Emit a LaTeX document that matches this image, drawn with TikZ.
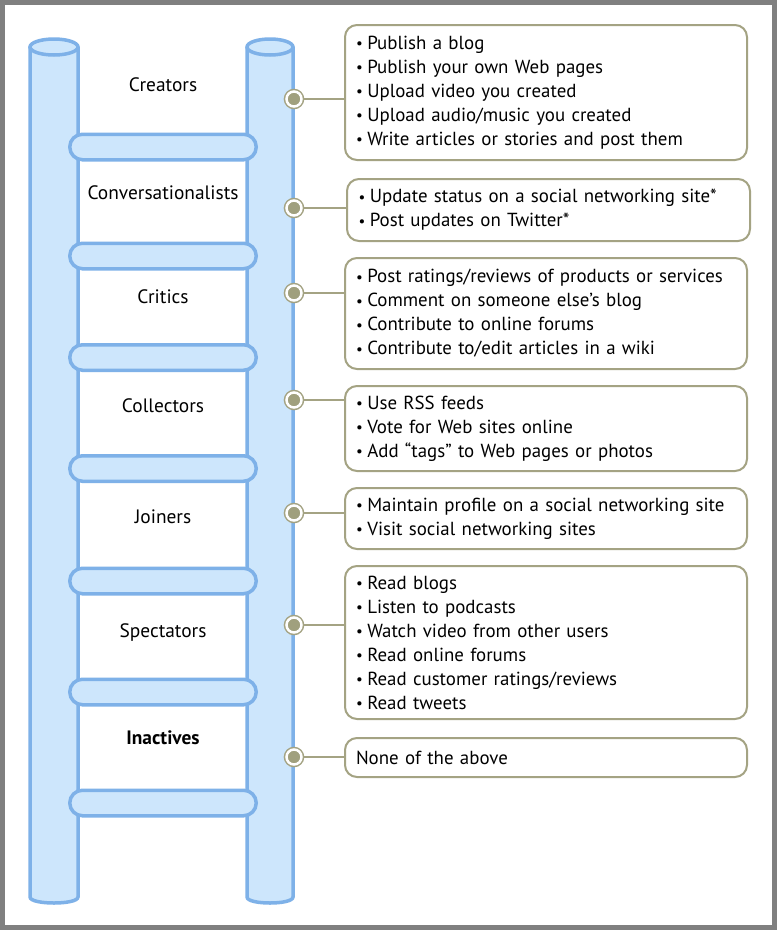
\documentclass[tikz,border=0pt]{standalone}
\usepackage{fontspec}
\setmainfont{PT Sans}
\definecolor{poleblue}{HTML}{7EB1E8}
\definecolor{polefill}{HTML}{CDE6FC}
\definecolor{olive}{HTML}{A4A383}
\definecolor{dotfill}{HTML}{A0A07E}
\definecolor{framegray}{HTML}{808080}
\newcommand{\bul}{\raisebox{0.8pt}{\fontsize{15}{15}\selectfont\textbullet}\hspace{4.5pt}}
\begin{document}
\begin{tikzpicture}[x=1pt,y=-1pt,
  pole/.style={fill=polefill, draw=poleblue, line width=3.5pt},
  rung/.style={rectangle, fill=polefill, draw=poleblue, line width=3.5pt, rounded corners=12.7pt, minimum width=186.5pt, minimum height=25.5pt, inner sep=0pt},
  lbl/.style={anchor=base, font=\fontsize{19.4}{22}\selectfont, inner sep=0pt},
  dotnode/.style={circle, inner sep=0pt, minimum size=15pt, fill=dotfill, draw=white, line width=2.5pt, preaction={draw=olive, line width=5.5pt}},
  infobox/.style={rectangle, draw=olive, line width=2pt, fill=white, rounded corners=12pt, outer sep=0pt, anchor=north west, minimum width=402pt, text width=380pt, inner xsep=11pt, inner ysep=0pt, align=left, font=\fontsize{18.9}{24}\selectfont},
  conn/.style={draw=olive, line width=1.8pt}
]
\useasboundingbox (0,0) rectangle (777,930);
\fill[framegray] (0,0) rectangle (777,930);
\fill[white] (5,5) rectangle (772,925);

% poles
\path[pole] (30,47) -- (30,897) .. controls (30,905) and (78,905) .. (78,897) -- (78,47);
\path[pole] (54,47) ellipse [x radius=24, y radius=8];
\path[pole] (247,47) -- (247,897) .. controls (247,905) and (293,905) .. (293,897) -- (293,47);
\path[pole] (270,47) ellipse [x radius=23, y radius=8];

% rungs
\node[rung] (r1) at (163,147) {};
\node[rung] (r2) at (163,256) {};
\node[rung] (r3) at (163,357.5) {};
\node[rung] (r4) at (163,468.5) {};
\node[rung] (r5) at (163,581) {};
\node[rung] (r6) at (163,692) {};
\node[rung] (r7) at (163,803) {};

% labels
\node[lbl] (l1) at (163,91) {Creators};
\node[lbl] (l2) at (163,199) {Conversationalists};
\node[lbl] (l3) at (163,303) {Critics};
\node[lbl] (l4) at (163,412) {Collectors};
\node[lbl] (l5) at (163,523) {Joiners};
\node[lbl] (l6) at (163,637) {Spectators};
\node[lbl, font=\fontsize{19.4}{22}\selectfont\bfseries] (l7) at (163,744) {Inactives};

% boxes
\node[infobox, minimum height=135pt] (b1) at (345,25) {%
\bul Publish a blog\\
\bul Publish your own Web pages\\
\bul Upload video you created\\
\bul Upload audio/music you created\\
\bul Write articles or stories and post them};
\node[infobox, minimum width=403pt, minimum height=62pt] (b2) at (347,179) {%
\bul Update status on a social networking site*\\
\bul Post updates on Twitter*};
\node[infobox, minimum height=111pt] (b3) at (345,258) {%
\bul Post ratings/reviews of products or services\\
\bul Comment on someone else’s blog\\
\bul Contribute to online forums\\
\bul Contribute to/edit articles in a wiki};
\node[infobox, minimum height=85pt] (b4) at (345,386) {%
\bul Use RSS feeds\\
\bul Vote for Web sites online\\
\bul Add “tags” to Web pages or photos};
\node[infobox, minimum height=61pt] (b5) at (345,488) {%
\bul Maintain profile on a social networking site\\
\bul Visit social networking sites};
\node[infobox, minimum height=153pt] (b6) at (345,566) {%
\bul Read blogs\\
\bul Listen to podcasts\\
\bul Watch video from other users\\
\bul Read online forums\\
\bul Read customer ratings/reviews\\
\bul Read tweets};
\node[infobox, minimum height=39pt] (b7) at (345,738) {None of the above};

% dots
\node[dotnode] (d1) at (294,99) {};
\node[dotnode] (d2) at (294,208) {};
\node[dotnode] (d3) at (294,293) {};
\node[dotnode] (d4) at (294,400) {};
\node[dotnode] (d5) at (294,513) {};
\node[dotnode] (d6) at (294,625) {};
\node[dotnode] (d7) at (294,757) {};

% connectors
\foreach \i in {1,...,7} {
  \draw[conn] (d\i.east) -- (d\i -| b\i.west);
}
\end{tikzpicture}
\end{document}
